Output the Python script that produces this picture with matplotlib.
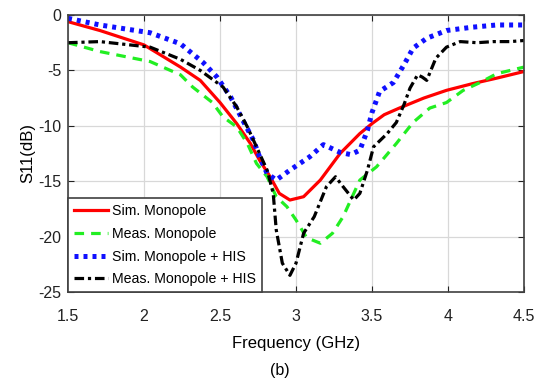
import matplotlib
matplotlib.use("Agg")
import matplotlib.pyplot as plt

plt.rcParams['font.family'] = ['Liberation Sans', 'DejaVu Sans']
plt.rcParams['axes.unicode_minus'] = False

f_red = [1.5, 1.71, 2.0, 2.24, 2.37, 2.5, 2.61, 2.7, 2.76, 2.83, 2.89, 2.96, 3.05, 3.16, 3.29, 3.42, 3.5, 3.58, 3.68, 3.84, 3.99, 4.16, 4.32, 4.5]
s_red = [-0.6, -1.4, -2.7, -4.7, -5.9, -7.9, -9.8, -11.6, -13.1, -14.6, -16.1, -16.7, -16.4, -14.9, -12.5, -10.7, -9.8, -9.0, -8.4, -7.5, -6.8, -6.2, -5.7, -5.1]

f_green = [1.5, 1.71, 2.04, 2.24, 2.32, 2.45, 2.52, 2.61, 2.68, 2.74, 2.81, 2.87, 2.94, 3.0, 3.07, 3.16, 3.24, 3.31, 3.36, 3.42, 3.53, 3.66, 3.77, 3.88, 3.99, 4.1, 4.21, 4.32, 4.5]
s_green = [-2.5, -3.3, -4.2, -5.4, -6.5, -7.9, -9.2, -10.1, -11.6, -13.4, -14.6, -16.4, -17.3, -18.5, -20.1, -20.6, -19.7, -18.2, -16.7, -14.9, -13.7, -11.6, -9.7, -8.4, -7.9, -6.8, -6.1, -5.3, -4.7]

f_blue = [1.5, 1.71, 2.04, 2.24, 2.39, 2.48, 2.57, 2.65, 2.72, 2.76, 2.81, 2.87, 2.96, 3.09, 3.18, 3.29, 3.36, 3.42, 3.47, 3.5, 3.55, 3.64, 3.71, 3.77, 3.86, 3.99, 4.16, 4.32, 4.5]
s_blue = [-0.3, -0.9, -1.6, -2.6, -4.3, -5.6, -7.4, -9.5, -11.3, -12.8, -14.3, -14.9, -14.0, -12.8, -11.7, -12.4, -12.6, -12.2, -10.4, -8.8, -6.9, -6.1, -4.5, -3.0, -2.1, -1.4, -1.1, -0.9, -0.9]

f_black = [1.5, 1.71, 2.04, 2.24, 2.37, 2.52, 2.61, 2.68, 2.74, 2.81, 2.85, 2.87, 2.91, 2.96, 3.0, 3.05, 3.12, 3.2, 3.26, 3.31, 3.38, 3.42, 3.47, 3.51, 3.6, 3.66, 3.71, 3.75, 3.8, 3.83, 3.86, 3.92, 3.99, 4.08, 4.19, 4.3, 4.41, 4.5]
s_black = [-2.5, -2.4, -2.9, -4.0, -5.0, -6.5, -8.3, -10.1, -11.9, -14.0, -16.1, -19.4, -22.4, -23.5, -22.4, -19.7, -18.2, -15.5, -14.6, -15.5, -16.7, -16.1, -14.0, -11.9, -10.7, -9.7, -8.1, -6.6, -5.4, -5.6, -5.9, -3.9, -2.9, -2.4, -2.5, -2.4, -2.4, -2.3]

xticks = [1.5, 2, 2.5, 3, 3.5, 4, 4.5]
xticklabels = ['1.5', '2', '2.5', '3', '3.5', '4', '4.5']
yticks = [0, -5, -10, -15, -20, -25]
labels = ['Sim. Monopole', 'Meas. Monopole', 'Sim. Monopole + HIS', 'Meas. Monopole + HIS']

fig = plt.figure(figsize=(5.41, 3.79), dpi=100)
ax = fig.add_axes([0.1257, 0.2296, 0.8429, 0.7308])

ax.plot(f_red, s_red, color='#ff0000', lw=2.3, ls='-', label=labels[0])
ax.plot(f_green, s_green, color='#22ee22', lw=2.3, ls=(0, (3, 2.2)), label=labels[1])
ax.plot(f_blue, s_blue, color='#1010ff', lw=3.6, ls=(0, (0.8, 1.0)), label=labels[2])
ax.plot(f_black, s_black, color='black', lw=2.3, ls=(0, (3, 1.2, 1, 1.2)), label=labels[3])

ax.set_xlim(1.5, 4.5)
ax.set_ylim(-25, 0)
ax.set_xticks(xticks)
ax.set_xticklabels(xticklabels)
ax.set_yticks(yticks)
ax.grid(True, color='#d8d8d8', lw=0.9)
ax.set_axisbelow(True)
for sp in ax.spines.values():
    sp.set_color('#404040')
    sp.set_linewidth(1.2)
ax.tick_params(direction='in', length=4, labelsize=11.5, colors='#222222',
               top=True, right=True)
ax.tick_params(axis='x', pad=12)
ax.tick_params(axis='y', pad=5)
ax.set_xlabel('Frequency (GHz)', fontsize=12, labelpad=9)
ax.set_ylabel('S11(dB)', fontsize=12, labelpad=2)

leg = ax.legend(loc='lower left', fontsize=10.2, frameon=True, fancybox=False,
                borderaxespad=0, handlelength=2.4, handletextpad=0.3,
                labelspacing=0.62, borderpad=0.4)
leg.get_frame().set_edgecolor('#404040')
leg.get_frame().set_linewidth(1.2)
leg.get_frame().set_alpha(1)

fig.text(0.5176, 0.0237, '(b)', fontsize=11.5, ha='center', va='center')

fig.savefig('out.png', dpi=100)
